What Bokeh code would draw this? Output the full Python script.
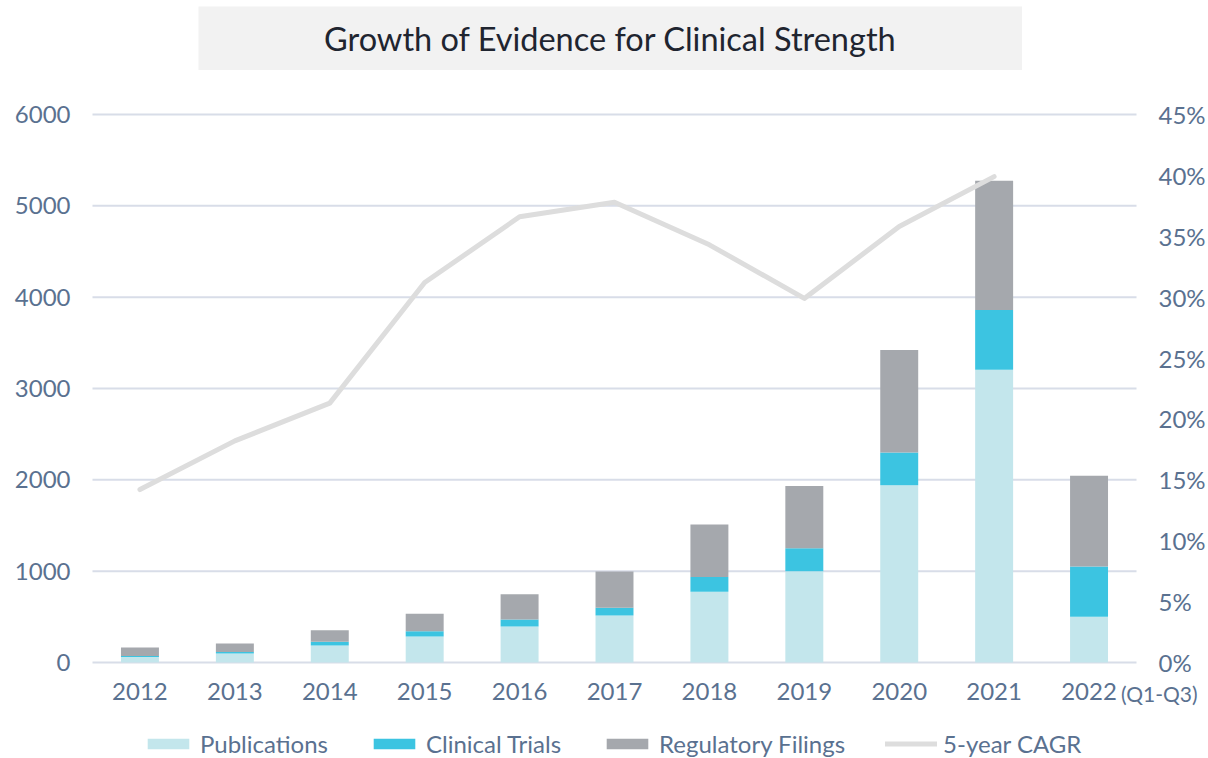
from bokeh.plotting import figure
from bokeh.models import (ColumnDataSource, Range1d, LinearAxis, FixedTicker,
                          PrintfTickFormatter, Legend, LegendItem, Label, Spacer)
from bokeh.layouts import column, row
from bokeh.embed import file_html
from bokeh.resources import INLINE

# ---------------- data ----------------
years = [2012, 2013, 2014, 2015, 2016, 2017, 2018, 2019, 2020, 2021, 2022]
publications = [60, 98, 186, 285, 394, 515, 776, 1000, 1940, 3205, 502]
clinical_trials = [12, 18, 40, 58, 77, 84, 160, 250, 358, 655, 548]
regulatory_filings = [92, 92, 128, 190, 277, 397, 575, 682, 1123, 1415, 995]
cagr_years = [2012, 2013, 2014, 2015, 2016, 2017, 2018, 2019, 2020, 2021]
cagr_pct = [14.2, 18.2, 21.3, 31.2, 36.6, 37.8, 34.3, 29.9, 35.8, 39.9]
left_ticks = [0, 1000, 2000, 3000, 4000, 5000, 6000]
right_ticks = [0, 5, 10, 15, 20, 25, 30, 35, 40, 45]
series_names = ["Publications", "Clinical Trials", "Regulatory Filings"]
line_name = "5-year CAGR"
title_text = "Growth of Evidence for Clinical Strength"
last_note = "(Q1-Q3)"

FONT = "Lato"
LABEL_COLOR = "#5a7190"
GRID_COLOR = "#d8dde8"
COLORS = ["#c3e6ec", "#3cc4e1", "#a5a8ad"]
LINE_COLOR = "#dddddd"

# ---------------- layout geometry (pixels) ----------------
FIG_W, FIG_H = 1208, 688
PLOT_L, PLOT_R = 92, 1136      # plotting area inside the canvas
PLOT_T, PLOT_B = 44, 592       # from canvas top

# ---------------- title box ----------------
tf = figure(width=824, height=64, x_range=Range1d(0, 1), y_range=Range1d(0, 1),
            toolbar_location=None, output_backend="svg",
            background_fill_color="#f2f2f2", border_fill_color="#f2f2f2",
            min_border=0, outline_line_color=None)
tf.axis.visible = False
tf.grid.visible = False
tf.add_layout(Label(x=0.5, y=0.5, text=title_text, text_align="center",
                    text_baseline="middle", text_font=FONT, text_font_size="32.5px",
                    text_color="#1f2530"))

# ---------------- ranges so the data area sits at the plotting area ----------------
x_lo, x_hi = years[0] - 0.5, years[-1] + 0.5
xs = (x_hi - x_lo) / (PLOT_R - PLOT_L)
x_range = Range1d(x_lo - PLOT_L * xs, x_hi + (FIG_W - PLOT_R) * xs)
y_lo, y_hi = left_ticks[0], left_ticks[-1]
ys = (y_hi - y_lo) / (PLOT_B - PLOT_T)
y_range = Range1d(y_lo - (FIG_H - PLOT_B) * ys, y_hi + PLOT_T * ys)
p_lo, p_hi = right_ticks[0], right_ticks[-1]
ps = (p_hi - p_lo) / (PLOT_B - PLOT_T)
pct_range = Range1d(p_lo - (FIG_H - PLOT_B) * ps, p_hi + PLOT_T * ps)

# ---------------- main chart ----------------
src = ColumnDataSource(dict(year=years, pub=publications, ct=clinical_trials,
                            rf=regulatory_filings))
line_src = ColumnDataSource(dict(year=cagr_years, pct=cagr_pct))

p = figure(width=FIG_W, height=FIG_H, x_range=x_range, y_range=y_range,
           toolbar_location=None, output_backend="svg", min_border=0,
           outline_line_color=None)
p.xgrid.visible = False
p.ygrid.visible = False

# horizontal gridlines over the category extent
p.segment(x0=[x_lo] * len(left_ticks), x1=[x_hi] * len(left_ticks),
          y0=left_ticks, y1=left_ticks, line_color=GRID_COLOR, line_width=2)

bars = p.vbar_stack(["pub", "ct", "rf"], x="year", width=0.4, source=src,
                    color=COLORS, line_color=None)

p.extra_y_ranges = {"pct": pct_range}
ln = p.line(x="year", y="pct", source=line_src, y_range_name="pct",
            line_color=LINE_COLOR, line_width=5, line_cap="round", line_join="round")

# axes
xa = p.xaxis[0]
xa.ticker = FixedTicker(ticks=years)
xa.fixed_location = y_lo
ya = p.yaxis[0]
ya.ticker = FixedTicker(ticks=left_ticks)
ya.fixed_location = x_lo
ra = LinearAxis(y_range_name="pct", ticker=FixedTicker(ticks=right_ticks),
                formatter=PrintfTickFormatter(format="%d%%"), fixed_location=x_hi)
p.add_layout(ra, "right")

for ax in [xa, ya, ra]:
    ax.axis_line_color = None
    ax.major_tick_line_color = None
    ax.minor_tick_line_color = None
    ax.major_tick_out = 0
    ax.major_tick_in = 0
    ax.minor_tick_out = 0
    ax.major_label_text_font = FONT
    ax.major_label_text_font_size = "24px"
    ax.major_label_text_color = LABEL_COLOR
xa.major_label_standoff = 20
ya.major_label_standoff = 22
ra.major_label_standoff = 22

# note beside the last tick label
p.add_layout(Label(x=years[-1], y=y_lo, x_offset=32, y_offset=-31, text=last_note,
                   text_align="left", text_baseline="middle", text_font=FONT,
                   text_font_size="21px", text_color=LABEL_COLOR))

# legend
items = [LegendItem(label=series_names[i], renderers=[bars[i]]) for i in range(3)]
items.append(LegendItem(label=line_name, renderers=[ln]))
legend = Legend(items=items, orientation="horizontal", location=(142, 0),
                glyph_width=52, glyph_height=13, label_standoff=6, spacing=40,
                padding=0, margin=0, border_line_color=None,
                background_fill_alpha=0, label_text_font=FONT,
                label_text_font_size="24px", label_text_color=LABEL_COLOR)
p.add_layout(legend, "center")

layout = column(Spacer(height=6), row(Spacer(width=198), tf), p)
open("out.html", "w").write(file_html(layout, INLINE))
